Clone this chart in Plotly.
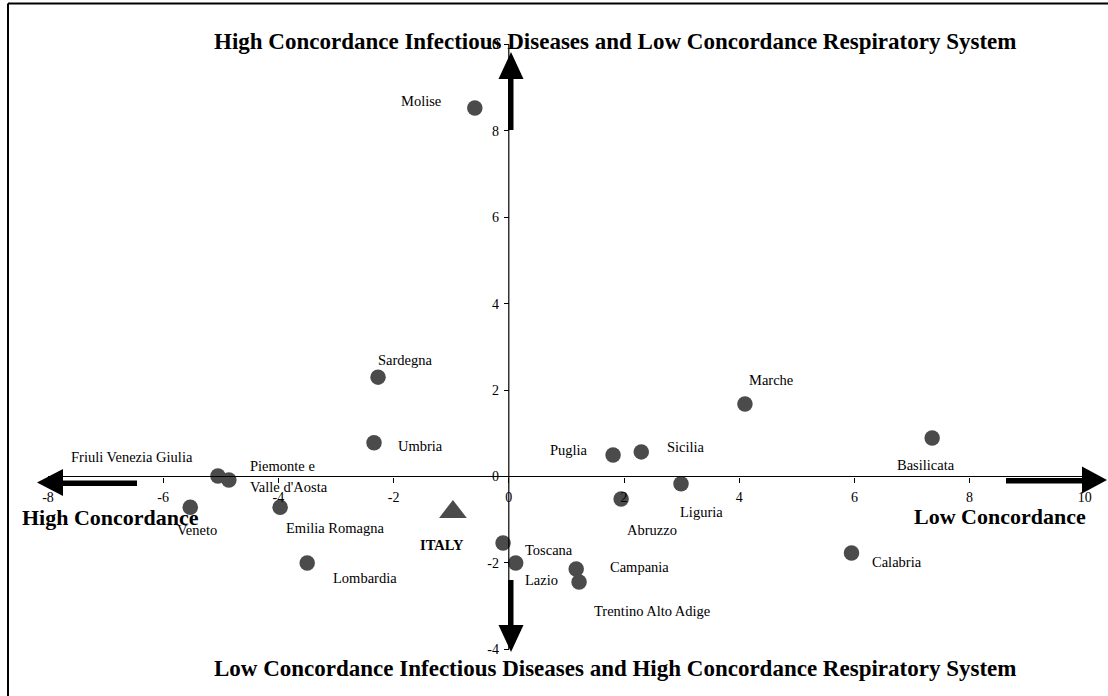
import plotly.graph_objects as go

# ---------------- data ----------------
regions = ["Molise", "Sardegna", "Umbria", "Marche", "Basilicata", "Puglia", "Sicilia",
           "Liguria", "Abruzzo", "Friuli Venezia Giulia", "Piemonte e Valle d'Aosta",
           "Veneto", "Emilia Romagna", "Lombardia", "Toscana", "Lazio", "Campania",
           "Trentino Alto Adige", "Calabria"]
x_vals = [-0.59, -2.27, -2.34, 4.10, 7.35, 1.81, 2.30,
          2.99, 1.95, -5.05, -4.86,
          -5.53, -3.97, -3.50, -0.10, 0.12, 1.17,
          1.22, 5.95]
y_vals = [8.53, 2.30, 0.78, 1.68, 0.89, 0.50, 0.57,
          -0.17, -0.52, 0.01, -0.08,
          -0.71, -0.71, -2.00, -1.54, -2.00, -2.14,
          -2.44, -1.77]

italy_label = "ITALY"
italy_x = [-0.97]
italy_y = [-0.82]

x_ticks = [-8, -6, -4, -2, 0, 2, 4, 6, 8, 10]
y_ticks = [-4, -2, 0, 2, 4, 6, 8, 10]

title_top = "High Concordance Infectious Diseases and Low Concordance Respiratory System"
title_bottom = "Low Concordance Infectious Diseases and High Concordance Respiratory System"
title_left = "High Concordance"
title_right = "Low Concordance"

# ---------------- styling / layout ----------------
W, H = 1108, 696
X0_PX, Y0_PX = 508.8, 476.5      # pixel of data origin
SX, SY = 57.6, 43.2              # pixels per unit
x_range = [(0 - X0_PX) / SX, (W - X0_PX) / SX]
y_range = [(Y0_PX - H) / SY, Y0_PX / SY]
xaxis_pos = (0 - y_range[0]) / (y_range[1] - y_range[0])
yaxis_pos = (0 - x_range[0]) / (x_range[1] - x_range[0])

SERIF = "Liberation Serif, Times New Roman, serif"
MARKER = "#4b4b4b"
LABEL_SIZE = 14.5

# label offsets in pixels (dx right, dy down) from the point centre
label_offsets = {
    "Molise": (-54, -7, "center"),
    "Sardegna": (27, -17, "center"),
    "Umbria": (46, 3, "center"),
    "Marche": (26, -24, "center"),
    "Basilicata": (-6, 27, "center"),
    "Puglia": (-44, -5, "center"),
    "Sicilia": (45, -5, "center"),
    "Liguria": (20, 28, "center"),
    "Abruzzo": (31, 31, "center"),
    "Friuli Venezia Giulia": (-86, -19, "center"),
    "Veneto": (7, 23, "center"),
    "Emilia Romagna": (55, 21, "center"),
    "Lombardia": (58, 15, "center"),
    "Toscana": (46, 7, "center"),
    "Lazio": (26, 17, "center"),
    "Campania": (63, -2, "center"),
    "Trentino Alto Adige": (73, 29, "center"),
    "Calabria": (45, 9, "center"),
}

fig = go.Figure()
fig.add_trace(go.Scatter(x=x_vals, y=y_vals, mode="markers",
                         marker=dict(symbol="circle", size=15.5, color=MARKER),
                         text=regions, hoverinfo="text", showlegend=False))
fig.add_trace(go.Scatter(x=italy_x, y=italy_y, mode="markers",
                         marker=dict(symbol="triangle-up", size=24, color=MARKER),
                         text=[italy_label], hoverinfo="text", showlegend=False))

lab_font = dict(family=SERIF, size=LABEL_SIZE, color="black")
annotations = []
for name, xv, yv in zip(regions, x_vals, y_vals):
    if name == "Piemonte e Valle d'Aosta":
        annotations.append(dict(x=xv, y=yv, text="Piemonte e", xanchor="left", yanchor="middle",
                                xshift=19, yshift=14, showarrow=False, font=lab_font))
        annotations.append(dict(x=xv, y=yv, text="Valle d'Aosta", xanchor="left", yanchor="middle",
                                xshift=19, yshift=-7, showarrow=False, font=lab_font))
        continue
    dx, dy, anc = label_offsets[name]
    annotations.append(dict(x=xv, y=yv, text=name, xanchor=anc, yanchor="middle",
                            xshift=dx, yshift=-dy, showarrow=False, font=lab_font))
annotations.append(dict(x=italy_x[0], y=italy_y[0], text="<b>" + italy_label + "</b>",
                        xanchor="center", yanchor="middle", xshift=-11, yshift=-33,
                        showarrow=False, font=lab_font))

big = dict(family=SERIF, size=23, color="black")
side = dict(family=SERIF, size=22, color="black")
annotations += [
    dict(x=615 / W, y=1 - 42 / H, xref="paper", yref="paper", text="<b>" + title_top + "</b>",
         showarrow=False, xanchor="center", yanchor="middle", font=big),
    dict(x=615 / W, y=1 - 668 / H, xref="paper", yref="paper", text="<b>" + title_bottom + "</b>",
         showarrow=False, xanchor="center", yanchor="middle", font=big),
    dict(x=20 / W, y=1 - 517 / H, xref="paper", yref="paper", text="<b>" + title_left + "</b>",
         showarrow=False, xanchor="left", yanchor="middle", font=side),
    dict(x=1088 / W, y=1 - 516 / H, xref="paper", yref="paper", text="<b>" + title_right + "</b>",
         showarrow=False, xanchor="right", yanchor="middle", font=side),
]


def px2x(p):
    return (p - X0_PX) / SX


def px2y(p):
    return (Y0_PX - p) / SY


shapes = []
# axis lines through the origin
shapes.append(dict(type="line", xref="x", yref="y", x0=x_ticks[0], x1=x_ticks[-1], y0=0, y1=0,
                   line=dict(color="black", width=1.2)))
shapes.append(dict(type="line", xref="x", yref="y", x0=0, x1=0, y0=y_ticks[0], y1=y_ticks[-1],
                   line=dict(color="black", width=1.2)))


def tri(p1, p2, p3):
    return dict(type="path", xref="x", yref="y", fillcolor="black", line=dict(width=0),
                path="M {} {} L {} {} L {} {} Z".format(px2x(p1[0]), px2y(p1[1]), px2x(p2[0]), px2y(p2[1]),
                                                     px2x(p3[0]), px2y(p3[1])))


def rect(xa, xb, ya, yb):
    return dict(type="rect", xref="x", yref="y", fillcolor="black", line=dict(width=0),
                x0=px2x(xa), x1=px2x(xb), y0=px2y(ya), y1=px2y(yb))


# left arrow
shapes.append(rect(62, 137, 480.5, 486))
shapes.append(tri((37, 482.5), (63, 469), (63, 496)))
# right arrow
shapes.append(rect(1006, 1083, 478, 483.5))
shapes.append(tri((1107, 480), (1082, 466.5), (1082, 493.5)))
# up arrow
shapes.append(rect(508, 513.5, 78, 130))
shapes.append(tri((511, 52), (498.5, 79), (523.5, 79)))
# down arrow
shapes.append(rect(508, 513.5, 580, 626))
shapes.append(tri((511, 652), (498.5, 625), (523.5, 625)))

# frame (top and left)
shapes.append(dict(type="line", xref="paper", yref="paper", x0=8 / W, x1=1, y0=1 - 3.5 / H, y1=1 - 3.5 / H,
                   line=dict(color="black", width=2)))
shapes.append(dict(type="line", xref="paper", yref="paper", x0=8 / W, x1=8 / W, y0=0, y1=1 - 3.5 / H,
                   line=dict(color="black", width=2)))

tickfont = dict(family=SERIF, size=14, color="black")
fig.update_layout(
    width=W, height=H, autosize=False,
    margin=dict(l=0, r=0, t=0, b=0),
    paper_bgcolor="white", plot_bgcolor="white",
    showlegend=False,
    xaxis=dict(range=x_range, tickvals=x_ticks, ticktext=[str(v) for v in x_ticks],
               showgrid=False, zeroline=False, showline=False,
               ticks="outside", ticklen=5, tickcolor="black", tickwidth=1,
               anchor="free", position=xaxis_pos, side="bottom",
               tickfont=tickfont, automargin=False, ticklabelstandoff=3, fixedrange=True),
    yaxis=dict(range=y_range, tickvals=y_ticks, ticktext=[str(v) for v in y_ticks],
               showgrid=False, zeroline=False, showline=False,
               ticks="outside", ticklen=5, tickcolor="black", tickwidth=1,
               anchor="free", position=yaxis_pos, side="left",
               tickfont=tickfont, automargin=False, ticklabelstandoff=2, fixedrange=True),
    annotations=annotations,
    shapes=shapes,
)

fig.write_html("out.html", config={"displayModeBar": False},
               post_script="document.body.style.margin='0px';document.body.style.overflow='hidden';")
